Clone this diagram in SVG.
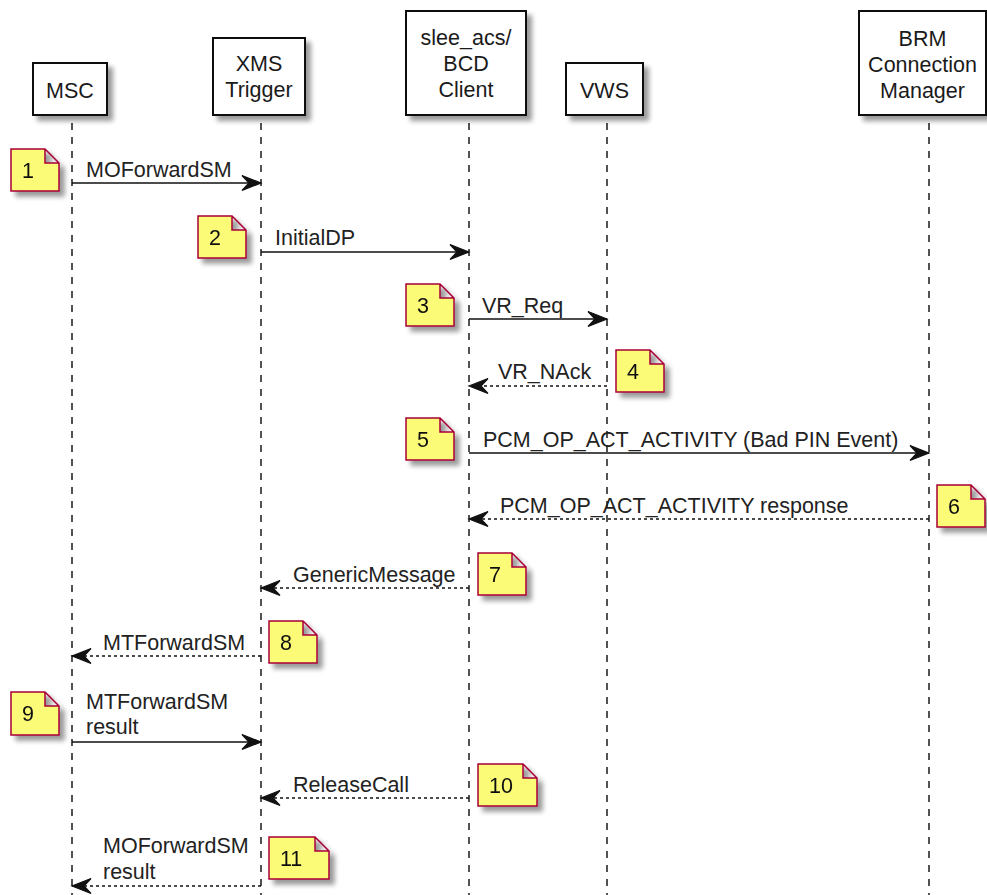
<svg xmlns="http://www.w3.org/2000/svg" width="987" height="895" viewBox="0 0 987 895">
<defs>
<style>
.pbox{fill:#fff;stroke:#111;stroke-width:2}
.pt{font-family:"Liberation Sans",Arial,sans-serif;font-size:21.5px;fill:#1a1a1a;text-anchor:middle}
.life{stroke:#1a1a1a;stroke-width:1.5;stroke-dasharray:7,7;fill:none}
.msg{stroke:#111;stroke-width:1.7;fill:none}
.dash{stroke-dasharray:3,3}
.ml{font-family:"Liberation Sans",Arial,sans-serif;font-size:21.5px;fill:#222}
.note{fill:#FBFB77;stroke:#A80036;stroke-width:1.5}
.nt{font-family:"Liberation Sans",Arial,sans-serif;font-size:21.5px;fill:#111}
</style>
<filter id="sh" x="-20%" y="-20%" width="150%" height="150%">
<feGaussianBlur in="SourceAlpha" stdDeviation="2.5"/>
<feOffset dx="5" dy="5"/>
<feComponentTransfer><feFuncA type="linear" slope="0.4"/></feComponentTransfer>
<feMerge><feMergeNode/><feMergeNode in="SourceGraphic"/></feMerge>
</filter>
<marker id="ah" viewBox="-21 -10 23 20" refX="0" refY="0" markerWidth="23" markerHeight="20" markerUnits="userSpaceOnUse" orient="auto">
<path d="M0,0 L-19,-7.5 L-12,0 L-19,7.5 Z" fill="#111" stroke="#111" stroke-width="1.2" stroke-linejoin="miter"/>
</marker>
</defs>
<rect width="987" height="895" fill="#fff"/>

<g id="lifelines">
<line class="life" x1="72" y1="123" x2="72" y2="895"/>
<line class="life" x1="261" y1="123" x2="261" y2="895"/>
<line class="life" x1="469" y1="123" x2="469" y2="895"/>
<line class="life" x1="607" y1="123" x2="607" y2="895"/>
<line class="life" x1="929" y1="123" x2="929" y2="895"/>
</g>

<g id="p-msc">
<rect class="pbox" x="33" y="63" width="74" height="52" filter="url(#sh)"/>
<text class="pt" x="70" y="98">MSC</text>
</g>
<g id="p-xms">
<rect class="pbox" x="213" y="38" width="92" height="77" filter="url(#sh)"/>
<text class="pt" x="259" y="71">XMS</text>
<text class="pt" x="259" y="97">Trigger</text>
</g>
<g id="p-slee">
<rect class="pbox" x="406" y="11" width="120" height="104" filter="url(#sh)"/>
<text class="pt" x="466" y="45">slee_acs/</text>
<text class="pt" x="466" y="71">BCD</text>
<text class="pt" x="466" y="97">Client</text>
</g>
<g id="p-vws">
<rect class="pbox" x="566" y="63" width="77" height="52" filter="url(#sh)"/>
<text class="pt" x="604.5" y="98">VWS</text>
</g>
<g id="p-brm">
<rect class="pbox" x="859" y="11" width="127" height="104" filter="url(#sh)"/>
<text class="pt" x="922.5" y="46">BRM</text>
<text class="pt" x="922.5" y="72">Connection</text>
<text class="pt" x="922.5" y="98">Manager</text>
</g>

<g id="connectors">
<line class="msg" x1="72" y1="183" x2="261" y2="183" marker-end="url(#ah)"/>
<text class="ml" x="86" y="177">MOForwardSM</text>
<line class="msg" x1="261" y1="252" x2="469" y2="252" marker-end="url(#ah)"/>
<text class="ml" x="275" y="245">InitialDP</text>
<line class="msg" x1="469" y1="319" x2="607" y2="319" marker-end="url(#ah)"/>
<text class="ml" x="482" y="313">VR_Req</text>
<line class="msg dash" x1="607" y1="386" x2="469" y2="386" marker-end="url(#ah)"/>
<text class="ml" x="498" y="379">VR_NAck</text>
<line class="msg" x1="469" y1="453" x2="929" y2="453" marker-end="url(#ah)"/>
<text class="ml" x="483" y="447">PCM_OP_ACT_ACTIVITY (Bad PIN Event)</text>
<line class="msg dash" x1="929" y1="519" x2="469" y2="519" marker-end="url(#ah)"/>
<text class="ml" x="500" y="513">PCM_OP_ACT_ACTIVITY response</text>
<line class="msg dash" x1="469" y1="588" x2="261" y2="588" marker-end="url(#ah)"/>
<text class="ml" x="293" y="582">GenericMessage</text>
<line class="msg dash" x1="261" y1="656" x2="72" y2="656" marker-end="url(#ah)"/>
<text class="ml" x="103" y="650">MTForwardSM</text>
<line class="msg" x1="72" y1="742" x2="261" y2="742" marker-end="url(#ah)"/>
<text class="ml" x="86" y="709">MTForwardSM</text>
<text class="ml" x="86" y="734">result</text>
<line class="msg dash" x1="469" y1="798" x2="261" y2="798" marker-end="url(#ah)"/>
<text class="ml" x="293" y="792">ReleaseCall</text>
<line class="msg dash" x1="261" y1="886" x2="72" y2="886" marker-end="url(#ah)"/>
<text class="ml" x="103" y="853">MOForwardSM</text>
<text class="ml" x="103" y="879">result</text>
</g>

<g id="note1" filter="url(#sh)">
<path class="note" d="M11,149 H45 L59,163 V191 H11 Z M45,149 V163 H59"/>
<text class="nt" x="22" y="178">1</text>
</g>
<g id="note2" filter="url(#sh)">
<path class="note" d="M198,216 H232 L246,230 V258 H198 Z M232,216 V230 H246"/>
<text class="nt" x="209" y="245">2</text>
</g>
<g id="note3" filter="url(#sh)">
<path class="note" d="M406,284 H440 L454,298 V326 H406 Z M440,284 V298 H454"/>
<text class="nt" x="417" y="313">3</text>
</g>
<g id="note4" filter="url(#sh)">
<path class="note" d="M616,350 H650 L664,364 V392 H616 Z M650,350 V364 H664"/>
<text class="nt" x="627" y="379">4</text>
</g>
<g id="note5" filter="url(#sh)">
<path class="note" d="M406,418 H440 L454,432 V460 H406 Z M440,418 V432 H454"/>
<text class="nt" x="417" y="447">5</text>
</g>
<g id="note6" filter="url(#sh)">
<path class="note" d="M937,485 H971 L985,499 V527 H937 Z M971,485 V499 H985"/>
<text class="nt" x="948" y="514">6</text>
</g>
<g id="note7" filter="url(#sh)">
<path class="note" d="M478,553 H512 L526,567 V595 H478 Z M512,553 V567 H526"/>
<text class="nt" x="489" y="582">7</text>
</g>
<g id="note8" filter="url(#sh)">
<path class="note" d="M269,621 H303 L317,635 V663 H269 Z M303,621 V635 H317"/>
<text class="nt" x="280" y="650">8</text>
</g>
<g id="note9" filter="url(#sh)">
<path class="note" d="M11,692 H45 L59,706 V735 H11 Z M45,692 V706 H59"/>
<text class="nt" x="22" y="721">9</text>
</g>
<g id="note10" filter="url(#sh)">
<path class="note" d="M478,764 H523 L537,778 V806 H478 Z M523,764 V778 H537"/>
<text class="nt" x="489" y="793">10</text>
</g>
<g id="note11" filter="url(#sh)">
<path class="note" d="M269,837 H315 L329,851 V879 H269 Z M315,837 V851 H329"/>
<text class="nt" x="280" y="866">11</text>
</g>
</svg>
